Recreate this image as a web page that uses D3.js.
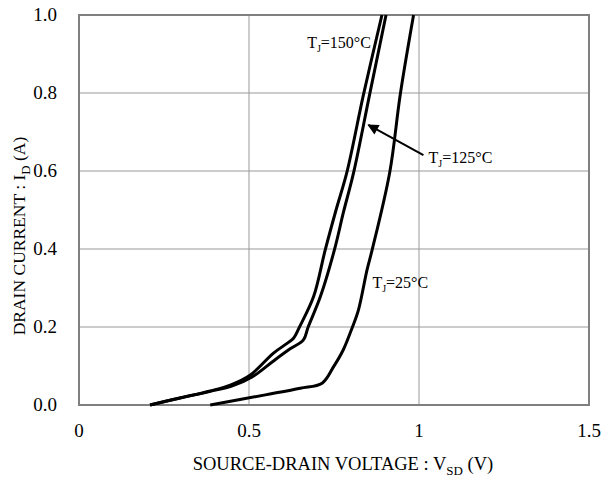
<!DOCTYPE html>
<html>
<head>
<meta charset="utf-8">
<script src="https://cdn.jsdelivr.net/npm/d3@7"></script>
<style>
  body { margin: 0; background: #fff; }
  svg text { font-family: "Liberation Serif", "Times New Roman", serif; fill: #000; }
</style>
</head>
<body>
<div id="plt"></div>
<script>
// curve data (V_SD in volts, I_D in amps)
var v150 = [0.209, 0.297, 0.386, 0.445, 0.504, 0.572, 0.612, 0.631, 0.649, 0.690, 0.724, 0.756, 0.788, 0.837, 0.891];
var i150 = [0, 0.018, 0.036, 0.051, 0.077, 0.133, 0.158, 0.171, 0.201, 0.278, 0.397, 0.500, 0.597, 0.797, 1.0];

var v125 = [0.209, 0.297, 0.386, 0.451, 0.509, 0.572, 0.621, 0.660, 0.674, 0.710, 0.751, 0.778, 0.808, 0.855, 0.903];
var i125 = [0, 0.018, 0.035, 0.049, 0.072, 0.113, 0.144, 0.167, 0.200, 0.278, 0.397, 0.495, 0.597, 0.797, 1.0];

var v25 = [0.386, 0.548, 0.651, 0.715, 0.748, 0.777, 0.803, 0.822, 0.847, 0.862, 0.914, 0.945, 0.984];
var i25 = [0, 0.026, 0.043, 0.056, 0.097, 0.141, 0.197, 0.244, 0.346, 0.397, 0.597, 0.797, 1.0];

var xTicks = [0, 0.5, 1, 1.5];
var xTickLabels = ["0", "0.5", "1", "1.5"];
var yTicks = [0, 0.2, 0.4, 0.6, 0.8, 1.0];
var yTickLabels = ["0.0", "0.2", "0.4", "0.6", "0.8", "1.0"];

// curve labels: temperature text, anchor position in data units
var labelTemps = ["150", "125", "25"];
var labelX = [0.671, 1.028, 0.863];
var labelY = [0.915, 0.621, 0.300];

// arrow for the 125 label: tail -> tip, data units
var arrowFrom = [1.013, 0.641];
var arrowTo = [0.851, 0.718];

// set the dimensions and margins of the plot
var margin = {top: 15, right: 12, bottom: 73, left: 79};
var width = 601 - margin.left - margin.right;
var height = 478 - margin.top - margin.bottom;

var svg = d3.select("#plt")
            .append("svg")
            .attr("width", width + margin.left + margin.right)
            .attr("height", height + margin.top + margin.bottom)
            .append("g")
            .attr("transform", "translate(" + margin.left + "," + margin.top + ")");

var x = d3.scaleLinear().domain([0, 1.5]).range([0, width]);
var y = d3.scaleLinear().domain([0, 1]).range([height, 0]);

// grid lines
svg.append("g")
   .selectAll("line")
   .data(yTicks)
   .enter()
   .append("line")
   .attr("x1", 0).attr("x2", width)
   .attr("y1", function(d) { return y(d); })
   .attr("y2", function(d) { return y(d); })
   .attr("stroke", "#999")
   .attr("stroke-width", 1);

svg.append("g")
   .selectAll("line")
   .data(xTicks)
   .enter()
   .append("line")
   .attr("y1", 0).attr("y2", height)
   .attr("x1", function(d) { return x(d); })
   .attr("x2", function(d) { return x(d); })
   .attr("stroke", "#999")
   .attr("stroke-width", 1);

// plot frame
svg.append("rect")
   .attr("x", 0).attr("y", 0)
   .attr("width", width).attr("height", height)
   .attr("fill", "none")
   .attr("stroke", "#808080")
   .attr("stroke-width", 2);

// tick labels
svg.append("g")
   .selectAll("text")
   .data(xTicks)
   .enter()
   .append("text")
   .attr("x", function(d) { return x(d); })
   .attr("y", height + 32)
   .attr("text-anchor", "middle")
   .style("font-size", "19px")
   .text(function(d, i) { return xTickLabels[i]; });

svg.append("g")
   .selectAll("text")
   .data(yTicks)
   .enter()
   .append("text")
   .attr("x", -22)
   .attr("y", function(d) { return y(d) + 6; })
   .attr("text-anchor", "end")
   .style("font-size", "19px")
   .text(function(d, i) { return yTickLabels[i]; });

// curves
var series = [
  {v: v150, i: i150},
  {v: v125, i: i125},
  {v: v25, i: i25}
];

var line = d3.line()
             .x(function(d) { return x(d[0]); })
             .y(function(d) { return y(d[1]); })
             .curve(d3.curveCatmullRom.alpha(0.5));

svg.selectAll("path.curve")
   .data(series)
   .enter()
   .append("path")
   .attr("class", "curve")
   .attr("d", function(s) { return line(d3.zip(s.v, s.i)); })
   .attr("fill", "none")
   .attr("stroke", "#000")
   .attr("stroke-width", 3)
   .attr("stroke-linejoin", "round");

// arrow
svg.append("defs")
   .append("marker")
   .attr("id", "head")
   .attr("viewBox", "0 0 10 10")
   .attr("refX", 9).attr("refY", 5)
   .attr("markerWidth", 12).attr("markerHeight", 11)
   .attr("markerUnits", "userSpaceOnUse")
   .attr("orient", "auto")
   .append("path")
   .attr("d", "M0,0 L10,5 L0,10 z")
   .attr("fill", "#000");

svg.append("line")
   .attr("x1", x(arrowFrom[0])).attr("y1", y(arrowFrom[1]))
   .attr("x2", x(arrowTo[0])).attr("y2", y(arrowTo[1]))
   .attr("stroke", "#000")
   .attr("stroke-width", 2)
   .attr("marker-end", "url(#head)");

// curve labels
labelTemps.forEach(function(t, k) {
  var lbl = svg.append("text")
     .attr("x", x(labelX[k]))
     .attr("y", y(labelY[k]))
     .style("font-size", "16px");
  lbl.append("tspan").text("T");
  lbl.append("tspan").attr("dy", 4).style("font-size", "10px").text("J");
  lbl.append("tspan").attr("dy", -4).text("=" + t + "\u00B0C");
});

// axis titles
var xt = svg.append("text")
   .attr("x", width / 2 + 9)
   .attr("y", height + 65)
   .attr("text-anchor", "middle")
   .style("font-size", "18.5px");
xt.append("tspan").text("SOURCE-DRAIN VOLTAGE : V");
xt.append("tspan").attr("dy", 5).style("font-size", "13px").text("SD");
xt.append("tspan").attr("dy", -5).text(" (V)");

var yt = svg.append("text")
   .attr("transform", "translate(" + (25 - margin.left) + "," + (236 - margin.top) + ")rotate(-90)")
   .attr("text-anchor", "middle")
   .style("font-size", "17.5px");
yt.append("tspan").text("DRAIN CURRENT : I");
yt.append("tspan").attr("dy", 5).style("font-size", "13px").text("D");
yt.append("tspan").attr("dy", -5).text(" (A)");
</script>
</body>
</html>
